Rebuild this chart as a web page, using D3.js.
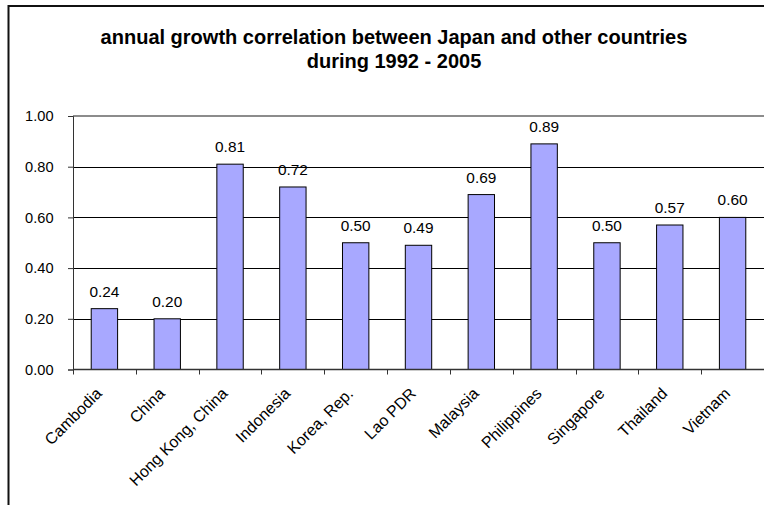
<!DOCTYPE html>
<html>
<head>
<meta charset="utf-8">
<script src="https://cdn.jsdelivr.net/npm/d3@7"></script>
<style>
html,body{margin:0;padding:0;background:#fff;}
svg{display:block;font-family:Arial,"Liberation Sans",sans-serif;}
</style>
</head>
<body>
<svg id="chart" width="764" height="505"></svg>
<script>
const categories = ["Cambodia","China","Hong Kong, China","Indonesia","Korea, Rep.","Lao PDR","Malaysia","Philippines","Singapore","Thailand","Vietnam"];
const values = [0.24,0.20,0.81,0.72,0.50,0.49,0.69,0.89,0.50,0.57,0.60];
const yTicks = [0,0.2,0.4,0.6,0.8,1.0];
const titleLines = ["annual growth correlation between Japan and other countries","during 1992 - 2005"];

const svg = d3.select("#chart");
const plot = {left:73, right:764, top:116, bottom:369.5};

// outer chart border (extends beyond the picture on right/bottom)
svg.append("rect").attr("x",8.5).attr("y",6).attr("width",900).attr("height",700)
  .attr("fill","none").attr("stroke","#111").attr("stroke-width",2);

// title
const title = svg.append("g").attr("font-weight","bold").attr("font-size",20).attr("text-anchor","middle");
titleLines.forEach((t,i)=> title.append("text").attr("x",394).attr("y",[43.5,67.5][i]).text(t));

const x = d3.scaleBand().domain(categories).range([plot.left,plot.right]).paddingInner(0.58).paddingOuter(0.29);
const y = d3.scaleLinear().domain([0,1]).range([plot.bottom,plot.top]);

// gridlines
svg.append("g").selectAll("line").data(yTicks.filter(d=>d>0 && d<1)).join("line")
  .attr("x1",plot.left).attr("x2",plot.right)
  .attr("y1",d=>Math.round(y(d))+0.5).attr("y2",d=>Math.round(y(d))+0.5)
  .attr("stroke","#000").attr("stroke-width",1);
// top plot border (grey)
svg.append("line").attr("x1",plot.left).attr("x2",plot.right).attr("y1",y(1)).attr("y2",y(1))
  .attr("stroke","#8c8c8c").attr("stroke-width",2);

// y axis
const yAxis = d3.axisLeft(y).tickValues(yTicks).tickFormat(d3.format(".2f")).tickSize(5).tickPadding(14.5);
const gy = svg.append("g").attr("transform",`translate(${plot.left},0)`).call(yAxis);
gy.select(".domain").attr("stroke","#333");
gy.selectAll(".tick line").attr("stroke","#333");
gy.selectAll(".tick text").attr("font-size",14.6).attr("font-family","Arial,'Liberation Sans',sans-serif").attr("fill","#000");

// bars
svg.append("g").selectAll("rect").data(values).join("rect")
  .attr("x",(d,i)=>x(categories[i])).attr("width",x.bandwidth())
  .attr("y",d=>y(d)).attr("height",d=>y(0)-y(d))
  .attr("fill","#a8a8ff").attr("stroke","#000").attr("stroke-width",1);

// value labels
svg.append("g").selectAll("text").data(values).join("text")
  .attr("x",(d,i)=>x(categories[i])+x.bandwidth()/2).attr("y",d=>y(d)-12)
  .attr("text-anchor","middle").attr("font-size",15.4).text(d=>d3.format(".2f")(d));

// x axis
const xEdge = d3.scaleLinear().domain([0,categories.length]).range([plot.left,plot.right]);
const gx = svg.append("g");
gx.append("line").attr("x1",plot.left).attr("x2",plot.right).attr("y1",plot.bottom).attr("y2",plot.bottom)
  .attr("stroke","#333").attr("stroke-width",1.5);
gx.selectAll("line.tk").data(d3.range(categories.length+1)).join("line").attr("class","tk")
  .attr("x1",d=>Math.round(xEdge(d))+0.5).attr("x2",d=>Math.round(xEdge(d))+0.5)
  .attr("y1",plot.bottom).attr("y2",plot.bottom+5).attr("stroke","#333");
gx.selectAll("text").data(categories).join("text")
  .attr("text-anchor","end").attr("font-size",16)
  .attr("transform",d=>`translate(${x(d)+x.bandwidth()/2-1.5},${plot.bottom+25}) rotate(-45)`)
  .text(d=>d);
</script>
</body>
</html>
